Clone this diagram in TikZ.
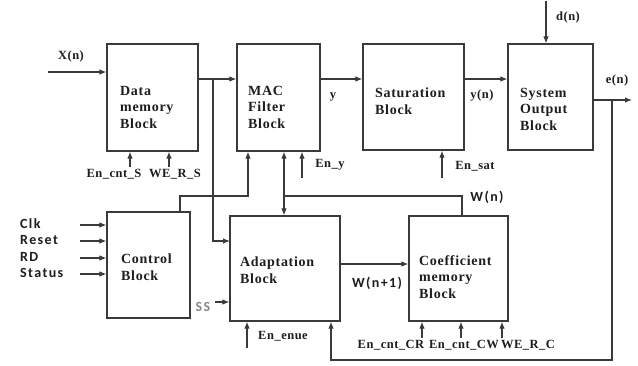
\documentclass[tikz,border=0pt]{standalone}
\usepackage{fontspec}
\setmainfont{Liberation Serif}
\newfontfamily\blockfont[LetterSpace=5]{Liberation Serif}
\newfontfamily\sigfont[LetterSpace=4]{Liberation Serif}
\newfontfamily\pinfont[LetterSpace=10]{Carlito}
\usetikzlibrary{arrows.meta}
\definecolor{wire}{HTML}{3A3A3A}
\definecolor{ink}{HTML}{1E1E1E}
\definecolor{ssgray}{HTML}{8A8A8A}

\begin{document}
\begin{tikzpicture}[
    x=1pt, y=-1pt,
    every node/.style={text=ink, inner sep=0pt},
    arr/.style={-{Latex[length=7pt,width=5.5pt]}, line width=1.1pt, draw=wire},
    wire/.style={line width=1.1pt, draw=wire},
    blk/.style={rectangle, draw=wire, line width=1.2pt},
    btxt/.style={anchor=west, align=left,
                 font=\blockfont\bfseries\fontsize{14}{16.5}\selectfont},
    sig/.style={font=\sigfont\bfseries\fontsize{12.5}{14}\selectfont},
    pin/.style={font=\pinfont\bfseries\fontsize{14}{16}\selectfont},
]
\fill[white] (0,0) rectangle (638,365);
\useasboundingbox (0,0) rectangle (638,365);

% ---------------- blocks
\node[blk, minimum width=91, minimum height=107] (dm)   at (152.5, 97.5) {};
\node[blk, minimum width=83, minimum height=107] (mac)  at (278.5, 97.5) {};
\node[blk, minimum width=101, minimum height=106] (sat) at (413.5, 97) {};
\node[blk, minimum width=85, minimum height=106] (sys)  at (550.5, 97) {};
\node[blk, minimum width=83, minimum height=106] (ctl)  at (148.5, 265) {};
\node[blk, minimum width=110, minimum height=105] (ada) at (285, 268.5) {};
\node[blk, minimum width=99, minimum height=105] (coef) at (458.5, 268.5) {};

\node[btxt] (dmt)   at (120, 107) {Data\\memory\\Block};
\node[btxt] (mact)  at (248, 107) {MAC\\Filter\\Block};
\node[btxt] (satt)  at (375, 101) {Saturation\\Block};
\node[btxt] (syst)  at (520, 109) {System\\Output\\Block};
\node[btxt] (ctlt)  at (121, 267) {Control\\Block};
\node[btxt] (adat)  at (240, 270) {Adaptation\\Block};
\node[btxt] (coeft) at (419, 277) {Coefficient\\memory\\Block};

% ---------------- data path
\coordinate (xin) at (48, 72);
\node[sig] (xn) at (71, 56) {X(n)};
\draw[arr] (xin) -- (xin -| dm.west);

\coordinate (tap) at (213, 79);
\draw[arr] (dm.east |- tap) -- (mac.west |- tap);
\draw[arr] (mac.east |- tap) -- (sat.west |- tap);
\draw[arr] (sat.east |- tap) -- (sys.west |- tap);
\node[sig] (yl)  at (333, 97) {y};
\node[sig] (ynl) at (482, 96) {y(n)};

\coordinate (adin) at (230, 241);
\draw[arr] (tap) |- (adin);

\coordinate (dtop) at (546, 1);
\node[sig] (dn) at (568, 17) {d(n)};
\draw[arr] (dtop) -- (dtop |- sys.north);

\coordinate (eout) at (632, 100);
\coordinate (fb) at (612, 100);
\coordinate (fbb) at (331, 360);
\node[sig] (en) at (617, 80) {e(n)};
\draw[arr] (sys.east |- eout) -- (eout);
\draw[arr] (fb) |- (fbb) -- (fbb |- ada.south);

% ---------------- control and weights
\coordinate (cm) at (180, 196);
\coordinate (macin) at (248, 196);
\draw[arr] (cm |- ctl.north) -- (cm) -- (macin) -- (macin |- mac.south);

\coordinate (wbus) at (284, 196);
\coordinate (wn) at (462, 196);
\draw[{Latex[length=7pt,width=5.5pt]}-{Latex[length=7pt,width=5.5pt]}, wire]
    (wbus |- mac.south) -- (wbus |- ada.north);
\draw[wire] (wn |- coef.north) -- (wn) -- (wbus);
\node[pin] (wnl) at (487, 197) {W(n)};

\coordinate (wnp) at (375, 264);
\draw[arr] (ada.east |- wnp) -- (coef.west |- wnp);
\node[pin] (wnpl) at (377, 283) {W(n+1)};

\coordinate (ssp) at (215, 302);
\node[pin, text=ssgray] (ss) at (203, 307) {SS};
\draw[arr] (ssp) -- (ssp -| ada.west);

\foreach \nm/\yy/\tx in {clk/225/Clk, rst/241/Reset, rd/258/RD, st/274/Status}{
    \node[pin, anchor=west] (\nm) at (20, \yy-1) {\tx};
    \coordinate (\nm p) at (80, \yy);
    \draw[arr] (\nm p) -- (\nm p -| ctl.west);
}

% ---------------- enables from below
\foreach \nm/\xx/\ty/\lx/\ly/\tx in {
    encs/130/167/114/174/En\_cnt\_S, wers/169/167/175/174/WE\_R\_S}{
    \node[sig] (\nm) at (\lx, \ly) {\tx};
    \coordinate (\nm p) at (\xx, \ty);
    \draw[arr] (\nm p) -- (\nm p |- dm.south);
}
\node[sig] (eny) at (330, 165) {En\_y};
\coordinate (enyp) at (302, 178);
\draw[arr] (enyp) -- (enyp |- mac.south);

\node[sig] (ensat) at (475, 166) {En\_sat};
\coordinate (ensatp) at (442, 178);
\draw[arr] (ensatp) -- (ensatp |- sat.south);

\node[sig] (enenue) at (283, 336) {En\_enue};
\coordinate (enenuep) at (247, 348);
\draw[arr] (enenuep) -- (enenuep |- ada.south);

\foreach \nm/\xx/\lx/\tx in {
    encr/422/391/En\_cnt\_CR, encw/461/464/En\_cnt\_CW, werc/502/528/WE\_R\_C}{
    \node[sig] (\nm) at (\lx, 345) {\tx};
    \coordinate (\nm p) at (\xx, 338);
    \draw[arr] (\nm p) -- (\nm p |- coef.south);
}
\end{tikzpicture}
\end{document}
